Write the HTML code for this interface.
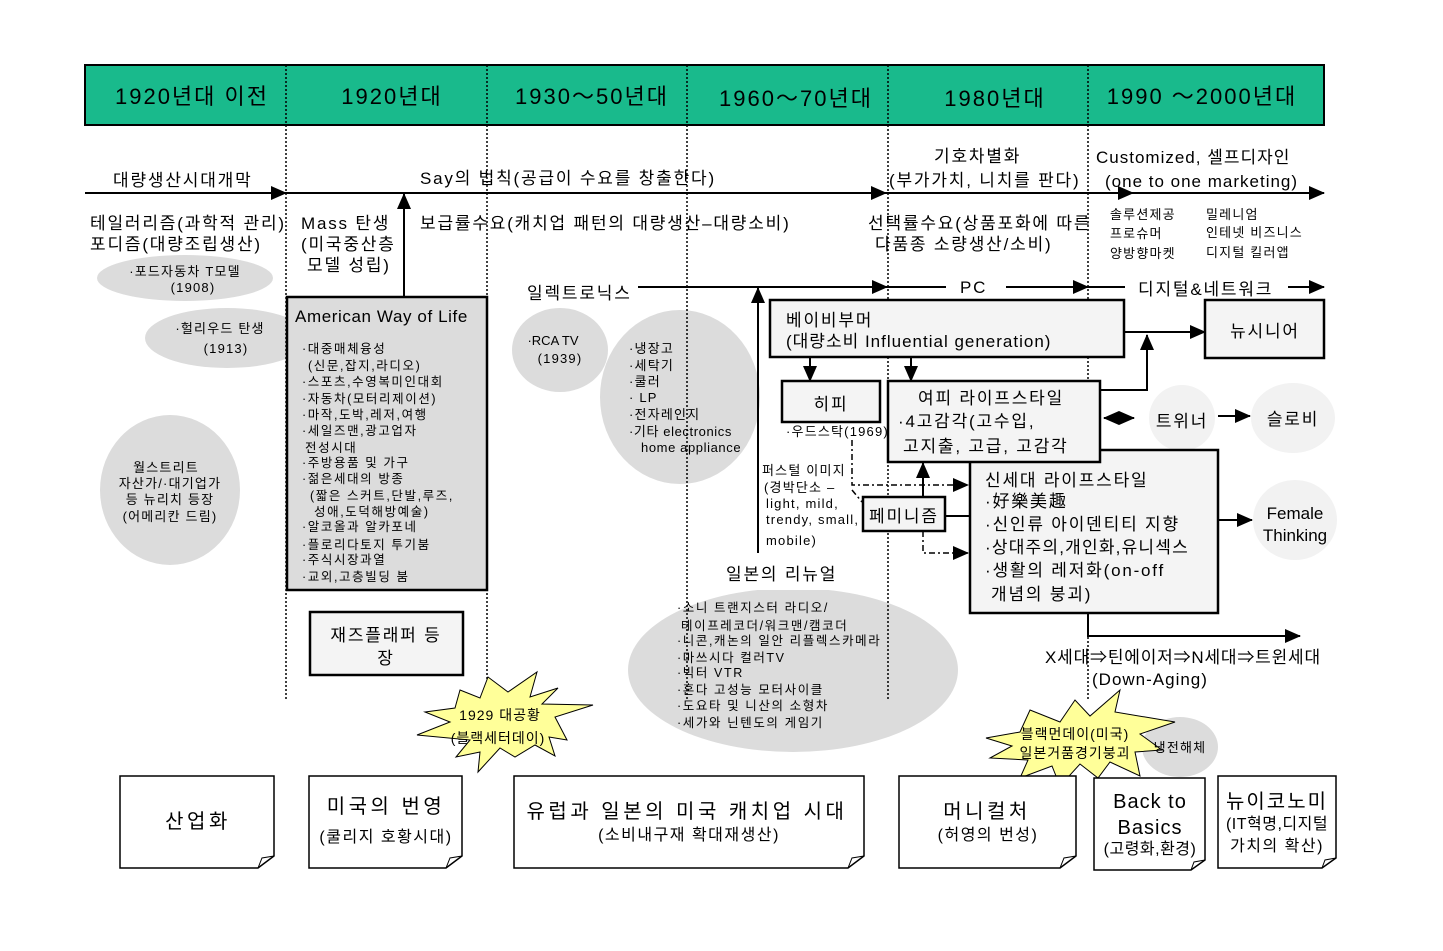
<!DOCTYPE html>
<html><head><meta charset="utf-8"><style>
html,body{margin:0;padding:0;background:#fff;}
svg{display:block;font-family:"Liberation Sans","Noto Sans CJK KR","NanumGothic",sans-serif;}
</style></head><body>
<svg width="1443" height="951" viewBox="0 0 1443 951" xmlns="http://www.w3.org/2000/svg">
<defs>
<marker id="ab" markerWidth="16" markerHeight="14" refX="15" refY="7" orient="auto" markerUnits="userSpaceOnUse"><path d="M0,0 L16,7 L0,14 z" fill="#000"/></marker>
<marker id="as" markerWidth="16" markerHeight="14" refX="1" refY="7" orient="auto" markerUnits="userSpaceOnUse"><path d="M16,0 L0,7 L16,14 z" fill="#000"/></marker>
</defs>
<rect x="85" y="65" width="1239" height="60" fill="#19ba8c" stroke="#000" stroke-width="2"/>
<g font-size="22" text-anchor="middle" fill="#000" letter-spacing="2">
<text x="192" y="104">1920년대 이전</text>
<text x="392" y="104">1920년대</text>
<text x="592" y="104">1930～50년대</text>
<text x="796" y="106">1960～70년대</text>
<text x="995" y="106">1980년대</text>
<text x="1202" y="104">1990 ～2000년대</text>
</g>
<g fill="#dcdcdc">
<ellipse cx="185" cy="278" rx="88" ry="23"/>
<ellipse cx="227" cy="338" rx="82" ry="30"/>
<ellipse cx="170" cy="490" rx="70" ry="75"/>
<ellipse cx="560" cy="350" rx="48" ry="42"/>
<ellipse cx="680" cy="397" rx="80" ry="87"/>
<ellipse cx="793" cy="670" rx="165" ry="82"/>
<ellipse cx="1182" cy="418" rx="33" ry="33" fill="#f2f2f2"/>
<ellipse cx="1293" cy="418" rx="42" ry="35" fill="#f2f2f2"/>
<ellipse cx="1295" cy="520" rx="42" ry="40" fill="#f2f2f2"/>
<ellipse cx="1180" cy="747" rx="38" ry="30"/>
</g>
<rect x="700" y="576" width="150" height="14" fill="#fff"/>
<g stroke="#000" stroke-width="1.5" stroke-dasharray="2,2">
<line x1="286" y1="65" x2="286" y2="700"/>
<line x1="487" y1="65" x2="487" y2="700"/>
<line x1="687" y1="65" x2="687" y2="700"/>
<line x1="888" y1="65" x2="888" y2="700"/>
<line x1="1088" y1="65" x2="1088" y2="700"/>
</g>
<g stroke="#000" stroke-width="2" fill="none">
<line x1="85" y1="193" x2="286" y2="193" marker-end="url(#ab)"/>
<line x1="286" y1="193" x2="886" y2="193" marker-end="url(#ab)"/>
<line x1="886" y1="193" x2="1133" y2="193" marker-end="url(#ab)"/>
<line x1="1133" y1="193" x2="1324" y2="193" marker-end="url(#ab)"/>
<line x1="404" y1="297" x2="404" y2="194" marker-end="url(#ab)"/>
<line x1="638" y1="287" x2="887" y2="287" marker-end="url(#ab)"/>
<line x1="887" y1="287" x2="946" y2="287"/>
<line x1="1006" y1="287" x2="1088" y2="287" marker-end="url(#ab)"/>
<line x1="1088" y1="287" x2="1125" y2="287"/>
<line x1="1288" y1="287" x2="1324" y2="287" marker-end="url(#ab)"/>
<line x1="758" y1="553" x2="758" y2="288" marker-end="url(#ab)"/>
<line x1="1124" y1="332" x2="1205" y2="332" marker-end="url(#ab)"/>
<polyline points="1100,390 1147,390 1147,335" marker-end="url(#ab)"/>
<line x1="810" y1="358" x2="810" y2="381" marker-end="url(#ab)"/>
<line x1="911" y1="358" x2="911" y2="381" marker-end="url(#ab)"/>
<line x1="1104" y1="418" x2="1134" y2="418" marker-start="url(#as)" marker-end="url(#ab)"/>
<line x1="1218" y1="416" x2="1250" y2="416" marker-end="url(#ab)"/>
<line x1="1218" y1="520" x2="1252" y2="520" marker-end="url(#ab)"/>
<polyline points="1088,613 1088,636 1300,636" marker-end="url(#ab)"/>
<line x1="945" y1="516" x2="970" y2="516"/>
<line x1="923" y1="497" x2="923" y2="463" marker-end="url(#ab)"/>
</g>
<g stroke="#000" stroke-width="1.5" fill="none" stroke-dasharray="6,3,2,3">
<polyline points="852,440 852,485 968,485" marker-end="url(#ab)"/>
<polyline points="923,531 923,553 968,553" marker-end="url(#ab)"/>
<line x1="852" y1="490" x2="862" y2="502"/>
</g>
<g stroke="#000" stroke-width="2.5" fill="#f4f4f4">
<rect x="287" y="297" width="200" height="293" fill="#dcdcdc"/>
<rect x="770" y="300" width="354" height="57"/>
<rect x="1205" y="300" width="119" height="58"/>
<rect x="782" y="381" width="98" height="41"/>
<rect x="970" y="450" width="248" height="163"/>
<rect x="888" y="381" width="212" height="81"/>
<rect x="863" y="497" width="82" height="34"/>
<rect x="310" y="612" width="153" height="63"/>
</g>
<path d="M460,690 L480,698 L488,677 L508,692 L537,672 L530,697 L558,688 L542,704 L593,705 L555,717 L567,740 L549,737 L555,756 L535,745 L515,757 L500,748 L478,772 L480,752 L456,757 L470,740 L417,735 L450,722 L425,712 L455,708 Z" fill="#ffff99" stroke="#000" stroke-width="1"/>
<path d="M1030,710 L1060,722 L1075,700 L1090,716 L1120,690 L1115,712 L1175,722 L1140,734 L1162,750 L1135,752 L1140,776 L1110,762 L1098,778 L1080,764 L1060,786 L1052,766 L1020,778 L1028,760 L990,758 L1012,746 L986,738 L1020,732 Z" fill="#ffff99" stroke="#000" stroke-width="1"/>
<g stroke="#000" stroke-width="1.5" fill="#fff">
<path d="M120,776 H274 V856 L258,868 H120 Z"/>
<path d="M309,776 H462 V856 L446,868 H309 Z"/>
<path d="M514,776 H864 V856 L848,868 H514 Z"/>
<path d="M899,776 H1076 V856 L1060,868 H899 Z"/>
<path d="M1094,778 H1205 V860 L1191,870 H1094 Z"/>
<path d="M1218,776 H1336 V858 L1322,868 H1218 Z"/>
</g>
<g stroke="#000" stroke-width="1" fill="none">
<path d="M258,868 L262,858 L274,856"/><path d="M446,868 L450,858 L462,856"/><path d="M848,868 L852,858 L864,856"/><path d="M1060,868 L1064,858 L1076,856"/><path d="M1191,870 L1194,862 L1205,860"/><path d="M1322,868 L1325,860 L1336,858"/>
</g>
<g font-size="17" fill="#000" letter-spacing="1.8">
<text x="113" y="186">대량생산시대개막</text>
<text x="420" y="184">Say의 법칙(공급이 수요를 창출한다)</text>
<text x="934" y="162">기호차별화</text>
<text x="889" y="186">(부가가치, 니치를 판다)</text>
<text x="1096" y="163" letter-spacing="1">Customized, 셀프디자인</text>
<text x="1105" y="187" letter-spacing="1">(one to one marketing)</text>
<text x="90" y="229">테일러리즘(과학적 관리)</text>
<text x="90" y="250">포디즘(대량조립생산)</text>
<text x="301" y="229">Mass 탄생</text>
<text x="301" y="250">(미국중산층</text>
<text x="307" y="271">모델 성립)</text>
<text x="420" y="229">보급률수요(캐치업 패턴의 대량생산–대량소비)</text>
<text x="868" y="229">선택률수요(상품포화에 따른</text>
<text x="875" y="250">다품종 소량생산/소비)</text>
<text x="527" y="299">일렉트로닉스</text>
<text x="960" y="293">PC</text>
<text x="1138" y="295">디지털&amp;네트워크</text>
<text x="295" y="322" letter-spacing="0.6">American Way of Life</text>
<text x="786" y="326">베이비부머</text>
<text x="786" y="347" letter-spacing="1">(대량소비 Influential generation)</text>
<text x="1265" y="337" text-anchor="middle">뉴시니어</text>
<text x="831" y="410" text-anchor="middle">히피</text>
<text x="918" y="404">여피 라이프스타일</text>
<text x="898" y="427">·4고감각(고수입,</text>
<text x="903" y="452">고지출, 고급, 고감각</text>
<text x="1182" y="427" text-anchor="middle">트위너</text>
<text x="1293" y="425" text-anchor="middle">슬로비</text>
<text x="869" y="522">페미니즘</text>
<text x="985" y="486">신세대 라이프스타일</text>
<text x="985" y="507">·好樂美趣</text>
<text x="985" y="530">·신인류 아이덴티티 지향</text>
<text x="985" y="553" letter-spacing="1.2">·상대주의,개인화,유니섹스</text>
<text x="985" y="576">·생활의 레저화(on-off</text>
<text x="991" y="600">개념의 붕괴)</text>
<text x="1295" y="519" text-anchor="middle" letter-spacing="0">Female</text>
<text x="1295" y="541" text-anchor="middle" letter-spacing="0">Thinking</text>
<text x="726" y="580">일본의 리뉴얼</text>
<text x="1045" y="663" letter-spacing="0.8">X세대⇒틴에이저⇒N세대⇒트윈세대</text>
<text x="1092" y="685" letter-spacing="1">(Down-Aging)</text>
<text x="386" y="641" text-anchor="middle">재즈플래퍼 등</text>
<text x="386" y="664" text-anchor="middle">장</text>
</g>
<g font-size="13" fill="#000" letter-spacing="1.2">
<text x="185" y="276" text-anchor="middle">·포드자동차 T모델</text>
<text x="193" y="292" text-anchor="middle">(1908)</text>
<text x="220" y="333" text-anchor="middle">·헐리우드 탄생</text>
<text x="226" y="353" text-anchor="middle">(1913)</text>
<text x="166" y="472" text-anchor="middle">월스트리트</text>
<text x="170" y="488" text-anchor="middle">자산가/·대기업가</text>
<text x="170" y="504" text-anchor="middle">등 뉴리치 등장</text>
<text x="170" y="521" text-anchor="middle">(어메리칸 드림)</text>
<text x="553" y="345" text-anchor="middle" letter-spacing="0">·RCA TV</text>
<text x="560" y="363" text-anchor="middle">(1939)</text>
<text x="629" y="353">·냉장고</text>
<text x="629" y="370">·세탁기</text>
<text x="629" y="386">·쿨러</text>
<text x="629" y="402">· LP</text>
<text x="629" y="419">·전자레인지</text>
<text x="629" y="436" letter-spacing="0.6">·기타 electronics</text>
<text x="641" y="452" letter-spacing="0.6">home appliance</text>
<text x="786" y="436">·우드스탁(1969)</text>
<text x="762" y="475">퍼스털 이미지</text>
<text x="764" y="492">(경박단소 –</text>
<text x="766" y="508">light, mild,</text>
<text x="766" y="524">trendy, small,</text>
<text x="766" y="545">mobile)</text>
<text x="1110" y="219">솔루션제공</text>
<text x="1110" y="238">프로슈머</text>
<text x="1110" y="258">양방향마켓</text>
<text x="1206" y="219">밀레니엄</text>
<text x="1206" y="237">인테넷 비즈니스</text>
<text x="1206" y="257">디지털 킬러앱</text>
<text x="1180" y="752" text-anchor="middle">냉전해체</text>
</g>
<g font-size="12.5" fill="#000" letter-spacing="1.6">
<text x="302" y="353">·대중매체융성</text>
<text x="308" y="370">(신문,잡지,라디오)</text>
<text x="302" y="386">·스포츠,수영복미인대회</text>
<text x="302" y="403">·자동차(모터리제이션)</text>
<text x="302" y="419">·마작,도박,레저,여행</text>
<text x="302" y="435">·세일즈맨,광고업자</text>
<text x="305" y="452">전성시대</text>
<text x="302" y="467">·주방용품 및 가구</text>
<text x="302" y="483">·젊은세대의 방종</text>
<text x="310" y="500">(짧은 스커트,단발,루즈,</text>
<text x="314" y="516">성애,도덕해방예술)</text>
<text x="302" y="531">·알코올과 알카포네</text>
<text x="302" y="549">·플로리다토지 투기붐</text>
<text x="302" y="564">·주식시장과열</text>
<text x="302" y="581">·교외,고층빌딩 붐</text>
<text x="677" y="612">·소니 트랜지스터 라디오/</text>
<text x="681" y="630">테이프레코더/워크맨/캠코더</text>
<text x="677" y="645">·니콘,캐논의 일안 리플렉스카메라</text>
<text x="677" y="662">·마쓰시다 컬러TV</text>
<text x="677" y="677">·빅터 VTR</text>
<text x="677" y="694">·혼다 고성능 모터사이클</text>
<text x="677" y="710">·도요타 및 니산의 소형차</text>
<text x="677" y="727">·세가와 닌텐도의 게임기</text>
</g>
<g font-size="14" fill="#000" text-anchor="middle" letter-spacing="1">
<text x="500" y="720">1929 대공황</text>
<text x="498" y="743">(블랙세터데이)</text>
<text x="1075" y="739">블랙먼데이(미국)</text>
<text x="1075" y="758">일본거품경기붕괴</text>
</g>
<g font-size="20" fill="#000" text-anchor="middle" letter-spacing="3.5">
<text x="198" y="828">산업화</text>
<text x="386" y="813">미국의 번영</text>
<text x="687" y="818">유럽과 일본의 미국 캐치업 시대</text>
<text x="987" y="818">머니컬처</text>
<text x="1150" y="808" letter-spacing="1">Back to</text>
<text x="1150" y="834" letter-spacing="1">Basics</text>
<text x="1277" y="808" letter-spacing="2">뉴이코노미</text>
</g>
<g font-size="16" fill="#000" text-anchor="middle" letter-spacing="1.5">
<text x="386" y="842">(쿨리지 호황시대)</text>
<text x="689" y="840">(소비내구재 확대재생산)</text>
<text x="988" y="840">(허영의 번성)</text>
<text x="1150" y="854" letter-spacing="0.5">(고령화,환경)</text>
<text x="1277" y="829" letter-spacing="0.5">(IT혁명,디지털</text>
<text x="1277" y="851">가치의 확산)</text>
</g>
</svg>
</body></html>
